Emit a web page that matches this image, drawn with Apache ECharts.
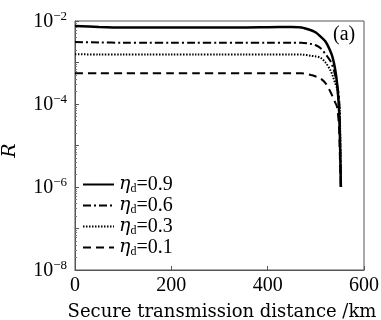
<!DOCTYPE html>
<html><head><meta charset="utf-8">
<script src="https://cdn.jsdelivr.net/npm/echarts@6/dist/echarts.min.js"></script>
<style>html,body{margin:0;padding:0;background:#fff}#c{width:381px;height:320px}</style>
</head><body><div id="c"></div>
<script>
const distance = [0, 50, 100, 150, 200, 250, 300, 350, 400, 450, 470, 490, 500, 510, 520, 530, 535, 540, 544, 548, 550, 552];
const r09 = [7.6e-3, 7.2e-3, 7.0e-3, 7.0e-3, 7.0e-3, 7.0e-3, 7.0e-3, 7.0e-3, 7.1e-3, 7.2e-3, 7.0e-3, 6.0e-3, 5.3e-3, 4.2e-3, 3.2e-3, 1.9e-3, 1.3e-3, 7e-4, 3.2e-4, 8e-5, 1.5e-5, 1e-6];
const r06 = [3.1e-3, 3.05e-3, 3.0e-3, 3.0e-3, 3.0e-3, 3.0e-3, 3.0e-3, 3.0e-3, 3.0e-3, 3.0e-3, 3.0e-3, 2.8e-3, 2.6e-3, 2.2e-3, 1.6e-3, 1.1e-3, 8e-4, 5e-4, 3e-4, 1.5e-4, 3e-5, 1e-6];
const r03 = [1.58e-3, 1.56e-3, 1.55e-3, 1.55e-3, 1.55e-3, 1.55e-3, 1.55e-3, 1.55e-3, 1.55e-3, 1.55e-3, 1.55e-3, 1.45e-3, 1.4e-3, 1.3e-3, 1.0e-3, 6.6e-4, 4.8e-4, 3.2e-4, 2.4e-4, 1.2e-4, 5e-5, 1e-6];
const r01 = [5.5e-4, 5.5e-4, 5.5e-4, 5.5e-4, 5.5e-4, 5.5e-4, 5.5e-4, 5.5e-4, 5.5e-4, 5.5e-4, 5.5e-4, 5.0e-4, 4.6e-4, 4.1e-4, 3.2e-4, 2.0e-4, 1.5e-4, 1.1e-4, 8.5e-5, 3e-5, 5e-6, 1e-6];
const etaLabels = ['0.9', '0.6', '0.3', '0.1'];
const yTickExps = [-2, -4, -6, -8];
const xTicks = [0, 200, 400, 600];

const FONT = 'DejaVu Serif';
const NUMFONT = 'Liberation Serif';
const chart = echarts.init(document.getElementById('c'));
const pair = a => distance.map((x, i) => [x, a[i]]);
const styles = [
  {width: 2.5, type: 'solid'},
  {width: 2, type: [8, 3, 2, 3]},
  {width: 2, type: [1.5, 1.5]},
  {width: 2, type: [8, 5]}
];
const seriesData = [r09, r06, r03, r01];
chart.setOption({
  animation: false,
  grid: {left: 75, right: 17, top: 21, bottom: 50, containLabel: false, outerBoundsMode: 'none'},
  xAxis: {
    type: 'value', min: 0, max: 600, interval: 200,
    name: 'Secure transmission distance /km', nameLocation: 'middle', nameGap: 33, nameMoveOverlap: false,
    nameTextStyle: {fontFamily: FONT, fontSize: 18, color: '#000', padding: [0, 0, 0, 5]},
    axisLine: {lineStyle: {color: '#555', width: 1}},
    axisTick: {inside: true, length: 4, lineStyle: {color: '#555'}},
    axisLabel: {fontFamily: NUMFONT, fontSize: 20, color: '#000', margin: 6,
      formatter: v => xTicks.indexOf(v) >= 0 ? String(v) : ''},
    splitLine: {show: false}
  },
  yAxis: {
    type: 'log', logBase: 10, min: 1e-8, max: 1e-2,
    name: 'R', nameLocation: 'middle', nameGap: 55, nameRotate: 90, nameMoveOverlap: false,
    nameTextStyle: {fontFamily: FONT, fontSize: 19, fontStyle: 'italic', color: '#000', padding: [0, 10, 0, 0]},
    axisLine: {lineStyle: {color: '#555', width: 1}},
    axisTick: {inside: true, length: 4, lineStyle: {color: '#555'}},
    minorTick: {show: true, splitNumber: 9, length: 2, lineStyle: {color: '#777'}},
    axisLabel: {
      margin: 8,
      formatter: v => {
        const e = Math.round(Math.log10(v));
        if (yTickExps.indexOf(e) < 0) return '';
        return '{b|10}{s|\u2212' + Math.abs(e) + '}';
      },
      rich: {
        b: {fontFamily: NUMFONT, fontSize: 20, color: '#000', verticalAlign: 'bottom'},
        s: {fontFamily: NUMFONT, fontSize: 13, color: '#000', verticalAlign: 'bottom', padding: [0, 0, 9, 0]}
      }
    },
    splitLine: {show: false}
  },
  legend: {
    left: 82, top: 174, padding: 0, orient: 'vertical', itemGap: 0, itemWidth: 31, itemHeight: 14,
    itemStyle: {opacity: 0},
    formatter: name => '{e|η}{d|d}{t|=' + name + '}',
    textStyle: {
      rich: {
        e: {fontFamily: FONT, fontSize: 19, fontStyle: 'italic', color: '#000', lineHeight: 22},
        d: {fontFamily: NUMFONT, fontSize: 12, color: '#000', lineHeight: 12, padding: [9, 0, 0, 0]},
        t: {fontFamily: NUMFONT, fontSize: 20, color: '#000', lineHeight: 22}
      }
    },
    data: etaLabels
  },
  graphic: [
    {type: 'rect', shape: {x: 75, y: 21, width: 289, height: 249}, style: {fill: 'none', stroke: '#555', lineWidth: 1}, silent: true},
    {type: 'text', left: 333, top: 25, style: {text: '(a)', font: '20px "Liberation Serif"', fill: '#000'}}
  ],
  series: seriesData.map((a, i) => ({
    name: etaLabels[i], type: 'line', data: pair(a), symbol: 'none', smooth: 0.3,
    lineStyle: {color: '#000', width: styles[i].width, type: styles[i].type},
    itemStyle: {color: '#000'}
  }))
});
</script></body></html>
